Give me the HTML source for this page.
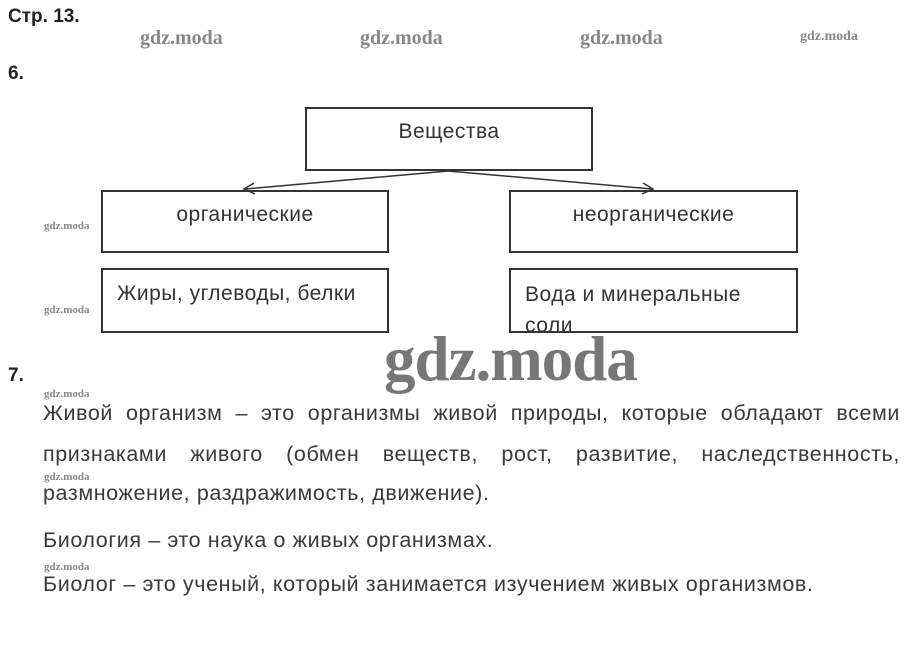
<!DOCTYPE html>
<html><head><meta charset="utf-8"><style>
body{margin:0;width:910px;height:648px;background:#fff;position:relative;overflow:hidden;font-family:"Liberation Sans",sans-serif;color:#333}
.a{position:absolute;white-space:nowrap}
.w{position:absolute;font-family:"Liberation Serif",serif;font-weight:bold;color:#888;white-space:nowrap}
.s{font-size:11px}
.b{position:absolute;border:2px solid #333;box-sizing:border-box;font-size:21px;overflow:hidden;letter-spacing:0.5px}
.p{position:absolute;left:43px;width:857px;font-size:21.5px;text-align:justify;text-align-last:justify;white-space:nowrap;color:#3a3a3a;letter-spacing:0.6px}
.t{letter-spacing:0.6px;font-size:21.5px;color:#3a3a3a}
</style></head><body>
<div class="a" style="left:8px;top:6px;font-size:19px;color:#222;font-weight:bold">Стр. 13.</div>
<div class="w" style="left:140px;top:27px;font-size:20px">gdz.moda</div>
<div class="w" style="left:360px;top:27px;font-size:20px">gdz.moda</div>
<div class="w" style="left:580px;top:27px;font-size:20px">gdz.moda</div>
<div class="w" style="left:800px;top:29px;font-size:14px">gdz.moda</div>
<div class="a" style="left:8px;top:63px;font-size:19px;color:#222;font-weight:bold">6.</div>

<div class="b" style="left:305px;top:107px;width:288px;height:64px;text-align:center;padding-top:11px">Вещества</div>
<div class="b" style="left:101px;top:190px;width:288px;height:63px;text-align:center;padding-top:11px">органические</div>
<div class="b" style="left:509px;top:190px;width:289px;height:63px;text-align:center;padding-top:11px">неорганические</div>
<div class="b" style="left:101px;top:268px;width:288px;height:65px;padding:12px 0 0 14px">Жиры, углеводы, белки</div>
<div class="b" style="left:509px;top:268px;width:289px;height:65px;padding:9px 0 0 14px;line-height:31px">Вода и минеральные<br>соли</div>
<svg class="a" style="left:0;top:0" width="910" height="648">
<path d="M448 171 L245 189 M448 171 L652 189" stroke="#333" stroke-width="1.5" fill="none"/>
<path d="M254 183 L244 189 L255 194" stroke="#333" stroke-width="1.5" fill="none"/>
<path d="M643 183 L653 189 L642 194" stroke="#333" stroke-width="1.5" fill="none"/>
</svg>
<div class="w s" style="left:44px;top:220px">gdz.moda</div>
<div class="w s" style="left:44px;top:304px">gdz.moda</div>
<div class="w" style="left:384px;top:323px;font-size:63px;color:#777;letter-spacing:-1px">gdz.moda</div>
<div class="a" style="left:8px;top:365px;font-size:19px;color:#222;font-weight:bold">7.</div>
<div class="w s" style="left:44px;top:388px">gdz.moda</div>
<div class="p" style="top:401px">Живой организм – это организмы живой природы, которые обладают всеми</div>
<div class="p" style="top:442px">признаками живого (обмен веществ, рост, развитие, наследственность,</div>
<div class="w s" style="left:44px;top:471px">gdz.moda</div>
<div class="a t" style="left:43px;top:481px">размножение, раздражимость, движение).</div>
<div class="a t" style="left:43px;top:528px">Биология – это наука о живых организмах.</div>
<div class="w s" style="left:44px;top:561px">gdz.moda</div>
<div class="a t" style="left:43px;top:572px">Биолог – это ученый, который занимается изучением живых организмов.</div>
</body></html>
